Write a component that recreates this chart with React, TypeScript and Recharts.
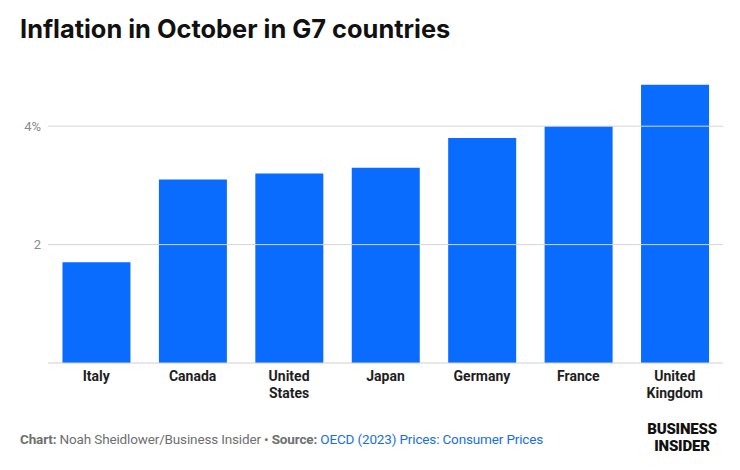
import { BarChart, Bar, XAxis, YAxis, ReferenceLine } from 'recharts';

const countries = ['Italy', 'Canada', 'United States', 'Japan', 'Germany', 'France', 'United Kingdom'];
const inflation = [1.7, 3.1, 3.2, 3.3, 3.8, 4.0, 4.7];
const yTicks = [2, 4];

const data = countries.map((name, i) => ({ name, value: inflation[i] }));

const BLUE = '#0A6CFF';

function CountryTick({ x, y, payload }: { x?: number; y?: number; payload?: { value: string } }) {
  const words = (payload?.value ?? '').split(' ');
  return (
    <text
      x={x}
      y={y}
      textAnchor="middle"
      fill="#1e1e1e"
      fontFamily="Roboto, sans-serif"
      fontWeight={700}
      fontSize={14}
    >
      {words.map((w, i) => (
        <tspan key={i} x={x} dy={i === 0 ? 10 : 17}>
          {w}
        </tspan>
      ))}
    </text>
  );
}

export default function App() {
  return (
    <div
      style={{
        position: 'fixed',
        left: 0,
        top: 0,
        width: 740,
        height: 470,
        background: '#fff',
        fontFamily: 'Inter, sans-serif',
      }}
    >
      <div
        style={{
          position: 'absolute',
          left: 20,
          top: 13,
          fontSize: 25.4,
          fontWeight: 700,
          color: '#111',
        }}
      >
        Inflation in October in G7 countries
      </div>

      <div style={{ position: 'absolute', left: 0, top: 0 }}>
        <BarChart
          width={740}
          height={420}
          data={data}
          margin={{ top: 67, right: 17, left: 8, bottom: 12 }}
          barCategoryGap="15%"
        >
          {yTicks.map((t) => (
            <ReferenceLine key={t} y={t} stroke="#d6d6d6" />
          ))}
          <XAxis
            dataKey="name"
            height={45}
            interval={0}
            tickLine={false}
            axisLine={{ stroke: '#cfcfcf' }}
            tick={<CountryTick />}
          />
          <YAxis
            width={40}
            domain={[0, 5]}
            ticks={yTicks}
            tickLine={false}
            axisLine={false}
            tickSize={5}
            tickMargin={2}
            tick={{ fill: '#8a8a8a', fontSize: 13, fontFamily: 'Roboto, sans-serif' }}
            tickFormatter={(v: number) => (v === 4 ? `${v}%` : `${v}`)}
          />
          <Bar dataKey="value" fill={BLUE} isAnimationActive={false} />
        </BarChart>
      </div>

      <div
        style={{
          position: 'absolute',
          left: 20,
          top: 431,
          fontSize: 13.5,
          fontFamily: 'Roboto, sans-serif',
          color: '#6f6f6f',
          letterSpacing: -0.15,
          whiteSpace: 'nowrap',
        }}
      >
        <b>Chart:</b> Noah Sheidlower/Business Insider • <b>Source:</b>{' '}
        <span style={{ color: '#1a6fe0' }}>OECD (2023) Prices: Consumer Prices</span>
      </div>

      <div
        style={{
          position: 'absolute',
          right: 17,
          top: 421,
          width: 82,
          fontSize: 15,
          lineHeight: '17px',
          fontWeight: 900,
          fontFamily: 'Roboto, sans-serif',
          color: '#111',
          textAlign: 'center',
          letterSpacing: -0.2,
        }}
      >
        <div>BUSINESS</div>
        <div>INSIDER</div>
      </div>
    </div>
  );
}
